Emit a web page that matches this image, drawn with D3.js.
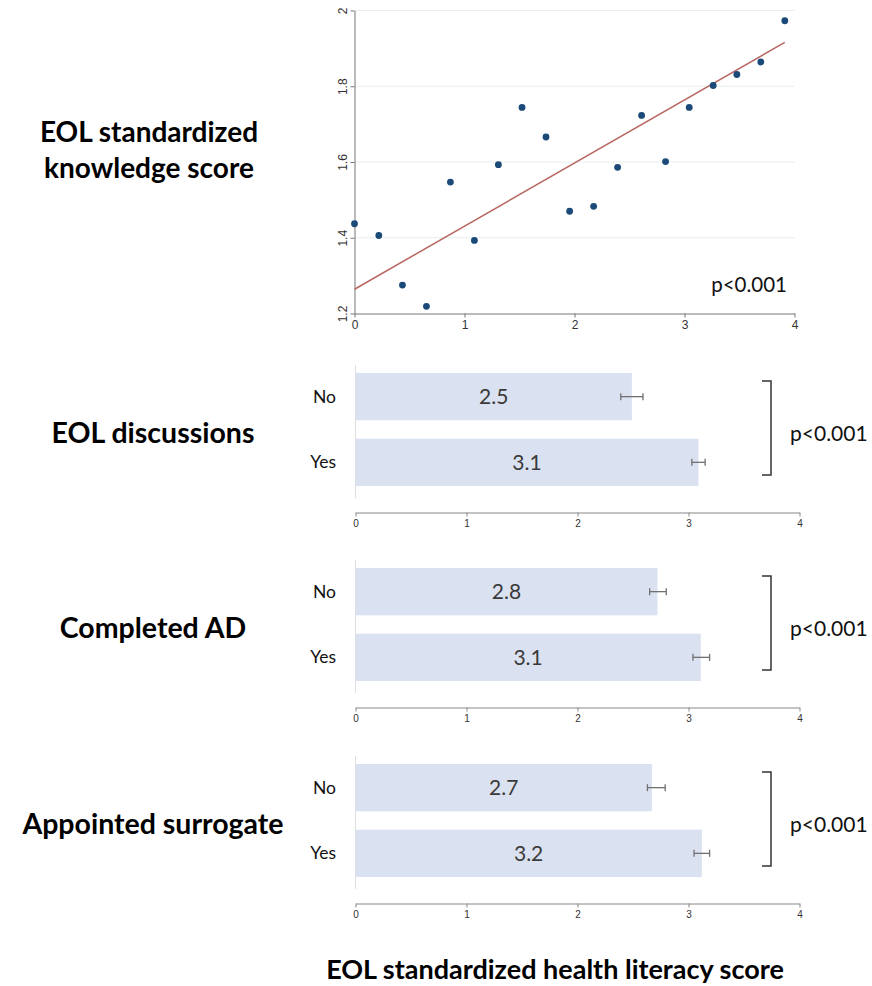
<!DOCTYPE html>
<html>
<head>
<meta charset="utf-8">
<script src="https://cdn.jsdelivr.net/npm/d3@7"></script>
<style>
  body { margin: 0; background: #fff; }
  svg { display: block; }
</style>
</head>
<body>
<div class="plot"></div>
<script>
// scatter: binned knowledge score vs health literacy
const scatterX = [0, 0.221, 0.436, 0.654, 0.872, 1.090, 1.308, 1.523, 1.741, 1.956,
                  2.174, 2.392, 2.610, 2.828, 3.043, 3.261, 3.476, 3.694, 3.912]
const scatterY = [1.437, 1.406, 1.275, 1.219, 1.547, 1.393, 1.593, 1.744, 1.666, 1.470,
                  1.483, 1.586, 1.723, 1.601, 1.744, 1.802, 1.831, 1.864, 1.973]
const fitX = [0, 3.912]
const fitY = [1.264, 1.916]
const scatterYTicks = [1.2, 1.4, 1.6, 1.8, 2]
const scatterXTicks = [0, 1, 2, 3, 4]

// bar panels
const groups = ["No", "Yes"]
const panelTitles = ["EOL discussions", "Completed AD", "Appointed surrogate"]
const barMeans = [[2.49, 3.09], [2.72, 3.11], [2.67, 3.12]]
const barLow = [[2.39, 3.03], [2.65, 3.04], [2.63, 3.05]]
const barHigh = [[2.59, 3.15], [2.80, 3.19], [2.79, 3.19]]
const barLabels = [["2.5", "3.1"], ["2.8", "3.1"], ["2.7", "3.2"]]
const pLabels = ["p<0.001", "p<0.001", "p<0.001"]
const barXTicks = [0, 1, 2, 3, 4]

const scatterTitle = ["EOL standardized", "knowledge score"]
const scatterP = "p<0.001"
const xTitle = "EOL standardized health literacy score"

const W = 872, H = 986
const labelFont = "Lato, 'Open Sans', sans-serif"
const tickFont = "'Liberation Sans', Arial, sans-serif"

let svg = d3.select(".plot").append("svg")
  .attr("width", W)
  .attr("height", H)

svg.append("rect").attr("width", W).attr("height", H).attr("fill", "#fff")

// ---------- scatter ----------
let sx = d3.scaleLinear().domain([0, 4]).range([354.5, 794.5])
let sy = d3.scaleLinear().domain([1.2, 2]).range([313.5, 10.5])

let sc = svg.append("g").attr("class", "scatter")

sc.selectAll(".grid")
  .data(scatterYTicks.slice(1))
  .enter().append("line")
  .attr("class", "grid")
  .attr("x1", sx(0)).attr("x2", sx(4))
  .attr("y1", d => sy(d)).attr("y2", d => sy(d))
  .attr("stroke", "#e6eeee")
  .attr("stroke-width", 1)

let syAxis = sc.append("g")
  .attr("transform", "translate(" + sx(0) + ",0)")
  .call(d3.axisLeft(sy).tickValues(scatterYTicks).tickSize(4).tickSizeOuter(0).tickFormat(d3.format("")))
syAxis.selectAll("text")
  .attr("transform", "rotate(-90)")
  .attr("x", 0).attr("y", -8).attr("dy", "0")
  .style("text-anchor", "middle")

let sxAxis = sc.append("g")
  .attr("transform", "translate(0," + sy(1.2) + ")")
  .call(d3.axisBottom(sx).tickValues(scatterXTicks).tickSize(4).tickSizeOuter(0).tickFormat(d3.format("d")))

;[syAxis, sxAxis].forEach(function(a){
  a.select(".domain").attr("stroke", "#777")
  a.selectAll(".tick line").attr("stroke", "#777")
  a.selectAll("text").style("font-family", tickFont).style("font-size", "12px").attr("fill", "#333")
})

sc.append("line")
  .attr("x1", sx(fitX[0])).attr("y1", sy(fitY[0]))
  .attr("x2", sx(fitX[1])).attr("y2", sy(fitY[1]))
  .attr("stroke", "#b86660")
  .attr("stroke-width", 1.5)

sc.selectAll(".dot")
  .data(scatterX.map((x, i) => ({x: x, y: scatterY[i]})))
  .enter().append("circle")
  .attr("class", "dot")
  .attr("cx", d => sx(d.x))
  .attr("cy", d => sy(d.y))
  .attr("r", 3.4)
  .attr("fill", "#1b4a78")

sc.append("text")
  .attr("x", 787).attr("y", 292)
  .style("text-anchor", "end")
  .style("font-family", labelFont)
  .style("font-size", "20.5px")
  .attr("fill", "#111")
  .text(scatterP)

let stitle = svg.append("text")
  .style("font-family", labelFont)
  .style("font-size", "28px")
  .style("font-weight", "bold")
  .style("text-anchor", "middle")
  .attr("fill", "#000")
scatterTitle.forEach(function(t, i){
  stitle.append("tspan").attr("x", 149).attr("y", 142 + i * 36).text(t)
})

// ---------- bar panels ----------
let bx = d3.scaleLinear().domain([0, 4]).range([355.5, 799.5])
const barTops = [373, 568, 764]

panelTitles.forEach(function(title, p){
  let top = barTops[p]
  let by = d3.scaleBand().domain(groups).range([top, top + 113]).paddingInner(0.28)
  let g = svg.append("g").attr("class", "panel")

  // light left axis
  g.append("line")
    .attr("x1", bx(0)).attr("x2", bx(0))
    .attr("y1", top - 8).attr("y2", top + 125)
    .attr("stroke", "#dedede")

  let data = groups.map((k, i) => ({
    group: k, value: barMeans[p][i], lo: barLow[p][i], hi: barHigh[p][i], label: barLabels[p][i]
  }))

  g.selectAll(".bar")
    .data(data)
    .enter().append("rect")
    .attr("class", "bar")
    .attr("x", bx(0))
    .attr("y", d => by(d.group))
    .attr("width", d => bx(d.value) - bx(0))
    .attr("height", by.bandwidth())
    .attr("fill", "#dae1f0")

  g.selectAll(".vlab")
    .data(data)
    .enter().append("text")
    .attr("class", "vlab")
    .attr("x", d => (bx(0) + bx(d.value)) / 2)
    .attr("y", d => by(d.group) + by.bandwidth() / 2)
    .attr("dy", "0.35em")
    .style("text-anchor", "middle")
    .style("font-family", labelFont)
    .style("font-size", "21px")
    .attr("fill", "#3a3a3a")
    .text(d => d.label)

  // error bars
  let eb = g.selectAll(".err").data(data).enter().append("g").attr("class", "err")
    .attr("stroke", "#707070").attr("stroke-width", 1.3)
  eb.append("line")
    .attr("x1", d => bx(d.lo)).attr("x2", d => bx(d.hi))
    .attr("y1", d => by(d.group) + by.bandwidth() / 2).attr("y2", d => by(d.group) + by.bandwidth() / 2)
  eb.append("line")
    .attr("x1", d => bx(d.lo)).attr("x2", d => bx(d.lo))
    .attr("y1", d => by(d.group) + by.bandwidth() / 2 - 3.5).attr("y2", d => by(d.group) + by.bandwidth() / 2 + 3.5)
  eb.append("line")
    .attr("x1", d => bx(d.hi)).attr("x2", d => bx(d.hi))
    .attr("y1", d => by(d.group) + by.bandwidth() / 2 - 3.5).attr("y2", d => by(d.group) + by.bandwidth() / 2 + 3.5)

  // group labels
  g.selectAll(".glab")
    .data(groups)
    .enter().append("text")
    .attr("class", "glab")
    .attr("x", 336)
    .attr("y", d => by(d) + by.bandwidth() / 2)
    .attr("dy", "0.35em")
    .style("text-anchor", "end")
    .style("font-family", labelFont)
    .style("font-size", "17.5px")
    .attr("fill", "#111")
    .text(d => d)

  // x axis
  let ax = g.append("g")
    .attr("transform", "translate(0," + (top + 139.5) + ")")
    .call(d3.axisBottom(bx).tickValues(barXTicks).tickSize(4).tickSizeOuter(0).tickFormat(d3.format("d")))
  ax.select(".domain").attr("stroke", "#888")
  ax.selectAll(".tick line").attr("stroke", "#888")
  ax.selectAll("text").style("font-family", tickFont).style("font-size", "10px").attr("fill", "#333")

  // bracket
  let bTop = top + 8, bBot = top + 102
  g.append("path")
    .attr("d", "M762," + bTop + "H771V" + bBot + "H762")
    .attr("fill", "none")
    .attr("stroke", "#333")
    .attr("stroke-width", 1.5)

  g.append("text")
    .attr("x", 790)
    .attr("y", top + 61)
    .attr("dy", "0.35em")
    .style("font-family", labelFont)
    .style("font-size", "21px")
    .attr("fill", "#111")
    .text(pLabels[p])

  g.append("text")
    .attr("x", 153)
    .attr("y", top + 60)
    .attr("dy", "0.35em")
    .style("text-anchor", "middle")
    .style("font-family", labelFont)
    .style("font-size", "28.5px")
    .style("font-weight", "bold")
    .attr("fill", "#000")
    .text(title)
})

svg.append("text")
  .attr("x", 555)
  .attr("y", 970)
  .attr("dy", "0.35em")
  .style("text-anchor", "middle")
  .style("font-family", labelFont)
  .style("font-size", "27px")
  .style("font-weight", "bold")
  .attr("fill", "#000")
  .text(xTitle)
</script>
</body>
</html>
